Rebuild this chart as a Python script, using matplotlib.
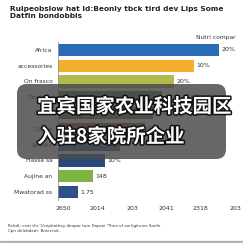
import matplotlib
matplotlib.use("Agg")
import matplotlib.pyplot as plt
import matplotlib.patheffects as pe
from matplotlib.patches import FancyBboxPatch, Rectangle

# data
categories = ["Africa", "accessories", "On frasco", "Tirotsea", "Cintys",
              "Dacks", "Sanidic", "Hasse sa", "Aujine an", "Mwatorad ss"]
values = [4.68, 3.95, 3.37, 3.02, 2.75, 2.53, 1.80, 1.37, 1.02, 0.58]
value_labels = ["20%", "10%", "20%", "10%", "15%", "12%", "", "10%", "148", "1.75"]
bar_colors = ["#2a6db6", "#f5ad2c", "#b3b84c", "#3f6a2c", "#5a5f3a",
              "#8b3a2e", "#2f4f82", "#2b4a7c", "#7db443", "#2e5088"]
tick_pos = [0.15, 1.15, 2.15, 3.15, 4.15, 5.15]
tick_labels = ["2650", "2014", "203", "2041", "2318", "203"]

title = "Rulpeobslow hat ld:Beonly tbck tird dev Lips Some\nDatfin bondobbis"
legend_txt = "Nutri compar"
footnote = ("Rckdt: cear thr 'Ucephathey dimpor ture Dopsie 'Theo of ew ligitures Sonfe\n"
            "Cpn dnlebdedr: Bniectoit.")
overlay_lines = ["宜宾国家农业科技园区", "入驻8家院所企业"]

W = 243.0
fig = plt.figure(figsize=(2.43, 2.43), dpi=100)
fig.patch.set_facecolor("white")

ax = fig.add_axes([58 / W, 43 / W, 179 / W, 158 / W])
ax.barh(range(len(values)), values, height=0.76, color=bar_colors)
ax.set_xlim(0, 5.2)
ax.set_ylim(9.5, -0.5)
ax.set_yticks(range(len(categories)))
ax.set_yticklabels(categories, fontsize=4.3, color="#333333")
ax.set_xticks(tick_pos)
ax.set_xticklabels(tick_labels, fontsize=4.5, color="#333333")
ax.tick_params(length=0, pad=4)
for s in ["top", "right", "bottom"]:
    ax.spines[s].set_visible(False)
ax.spines["left"].set_color("#999999")
ax.spines["left"].set_linewidth(0.6)

for i, (v, lab) in enumerate(zip(values, value_labels)):
    ax.text(v + 0.06, i, lab, va="center", ha="left", fontsize=4.5, color="#333333")

fig.text(10 / W, 1 - 6 / W, title, ha="left", va="top", fontsize=5.3,
         color="#222222", fontweight="bold", linespacing=1.1)
fig.text(236 / W, 1 - 38 / W, legend_txt, ha="right", va="center",
         fontsize=4.3, color="#333333")
fig.text(8 / W, 1 - 224 / W, footnote, ha="left", va="top", fontsize=2.9,
         color="#333333", linespacing=1.3)

# thin gray strip at the bottom
fig.patches.append(Rectangle((0, 0), 1, 2 / W, transform=fig.transFigure,
                             color="#b5b5b5", zorder=0))

# dark overlay box with chinese caption
box = FancyBboxPatch((17 / W, 1 - 159 / W), 209 / W, 75 / W,
                     boxstyle="round,pad=0,rounding_size=0.04",
                     transform=fig.transFigure, facecolor="#4a4a4a",
                     edgecolor="none", alpha=0.84, zorder=5)
fig.patches.append(box)

stroke = [pe.withStroke(linewidth=2.2, foreground="#111111")]
fig.text(37 / W, 1 - 107 / W, overlay_lines[0], ha="left", va="center",
         fontsize=14, fontweight="bold", color="white",
         family=["Noto Sans CJK SC", "DejaVu Sans"], path_effects=stroke, zorder=6)
fig.text(37 / W, 1 - 137 / W, overlay_lines[1], ha="left", va="center",
         fontsize=14, fontweight="bold", color="white",
         family=["Noto Sans CJK SC", "DejaVu Sans"], path_effects=stroke, zorder=6)

fig.savefig("out.png", dpi=100)
